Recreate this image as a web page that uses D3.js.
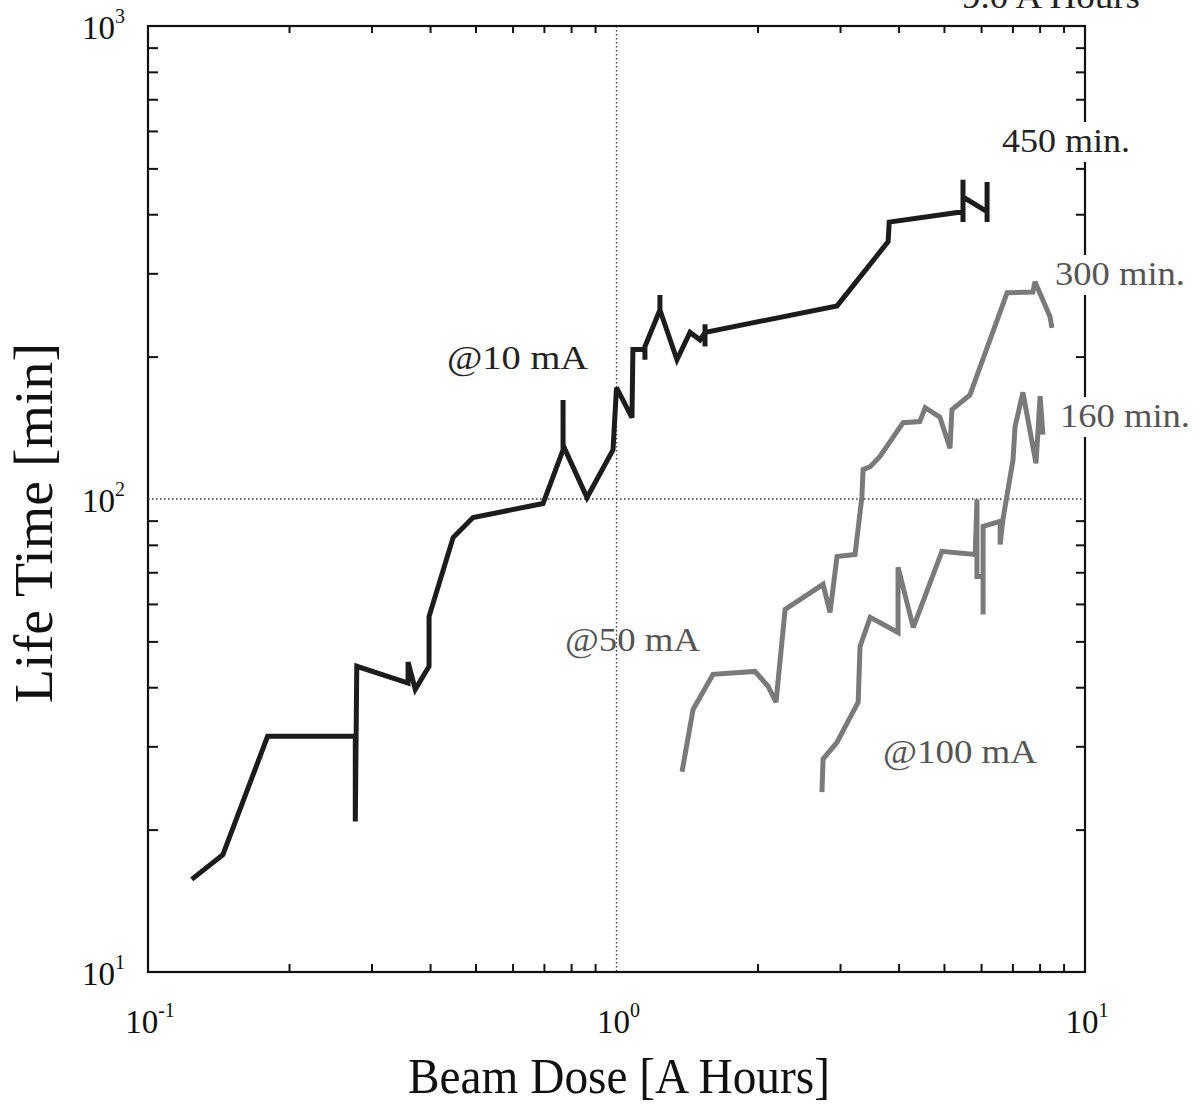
<!DOCTYPE html>
<html>
<head>
<meta charset="utf-8">
<script src="https://cdn.jsdelivr.net/npm/d3@7"></script>
<style>
  body { margin: 0; background: #fff; }
  svg { display: block; }
  text { font-family: "Liberation Serif", "DejaVu Serif", serif; }
</style>
</head>
<body>
<svg id="chart" width="1199" height="1109"></svg>
<script>
// ---- data ----
const xTicks = [0.1, 1, 10];
const xTickExp = ["-1", "0", "1"];
const yTicks = [10, 100, 1000];
const yTickExp = ["1", "2", "3"];

const dose10 = [0.124,0.1445,0.180,0.277,0.277,0.279,0.359,0.359,0.372,0.398,0.398,0.448,0.494,0.697,0.769,0.769,0.769,0.865,0.983,1.00,1.079,1.084,1.15,1.15,1.15,1.238,1.238,1.238,1.346,1.435,1.508,1.545,1.545,1.545,1.545,2.956,3.80,3.82,5.49,5.49,5.49,5.49,6.18,6.18,6.18];
const life10 = [15.7,17.7,31.5,31.5,20.8,44.3,40.8,45.2,39.6,44.3,56.4,82.9,91.4,97.8,127,162,130,100.7,127,172,148.6,207,207,197,210,251,270,251,197,225,217,225,210,234,225,256,350,385,405,385,473,435,405,385,468];

const dose50 = [1.380,1.457,1.607,1.975,2.106,2.190,2.290,2.76,2.856,2.956,3.23,3.34,3.36,3.48,3.65,4.09,4.44,4.56,4.90,5.15,5.20,5.68,6.82,7.74,7.82,8.42,8.50];
const life50 = [26.5,35.9,42.6,43.2,40.2,37.2,58.4,66.0,57.6,75.6,76.3,101,115.4,117,123,145,145.8,156,149,128,154.5,166,273,274,288,243,230];

const dose100 = [2.745,2.76,2.956,3.28,3.31,3.48,3.99,3.99,4.30,4.95,5.83,5.88,5.88,6.06,6.06,6.06,6.59,6.59,6.68,7.02,7.09,7.37,7.86,8.02,8.13];
const life100 = [24.0,28.2,30.6,37.2,48.8,56.2,52.2,71.7,53.5,77.5,76.3,99.8,68.6,68.6,57.0,87.5,89.7,80.1,90.5,121,142,168,119,165,136.8];

const seriesNames = ["@10 mA", "@50 mA", "@100 mA"];
const sideNotes = ["450 min.", "300 min.", "160 min."];
const topNote = "9.0 A Hours";

// ---- layout ----
const svg = d3.select("#chart");
const L = 148, R = 1085, T = 26, B = 972;
const x = d3.scaleLog().domain([0.1, 10]).range([L, R]);
const y = d3.scaleLog().domain([10, 1000]).range([B, T]);

svg.append("rect").attr("width", 1199).attr("height", 1109).attr("fill", "#fff");

// dotted grid at 10^0 and 10^2
svg.append("line").attr("x1", x(1)).attr("x2", x(1)).attr("y1", T).attr("y2", B)
  .attr("stroke", "#333").attr("stroke-width", 1.3).attr("stroke-dasharray", "1.5,2.5");
svg.append("line").attr("x1", L).attr("x2", R).attr("y1", y(100)).attr("y2", y(100))
  .attr("stroke", "#333").attr("stroke-width", 1.3).attr("stroke-dasharray", "1.5,2.5");

// minor ticks via d3 axes (inward)
const minorX = [];
[0.1, 1].forEach(d => { for (let k = 2; k <= 9; k++) minorX.push(d * k); });
const minorY = [];
[10, 100].forEach(d => { for (let k = 2; k <= 9; k++) minorY.push(d * k); });

function styleAxis(g) {
  g.select(".domain").remove();
  g.selectAll("text").remove();
  g.selectAll("line").attr("stroke", "#111").attr("stroke-width", 2);
}
svg.append("g").attr("transform", `translate(0,${B})`)
  .call(d3.axisTop(x).tickValues(minorX).tickSize(8)).call(styleAxis);
svg.append("g").attr("transform", `translate(0,${T})`)
  .call(d3.axisBottom(x).tickValues(minorX).tickSize(7)).call(styleAxis);
svg.append("g").attr("transform", `translate(${L},0)`)
  .call(d3.axisRight(y).tickValues(minorY).tickSize(10)).call(styleAxis);
svg.append("g").attr("transform", `translate(${R},0)`)
  .call(d3.axisLeft(y).tickValues(minorY).tickSize(9)).call(styleAxis);

// frame
svg.append("rect").attr("x", L).attr("y", T).attr("width", R - L).attr("height", B - T)
  .attr("fill", "none").attr("stroke", "#111").attr("stroke-width", 2.2);

// series
const line = d3.line().x(d => x(d[0])).y(d => y(d[1])).curve(d3.curveLinear);
const s10 = d3.zip(dose10, life10);
const s50 = d3.zip(dose50, life50);
const s100 = d3.zip(dose100, life100);

svg.append("path").datum(s50).attr("d", line).attr("fill", "none")
  .attr("stroke", "#7a7a7a").attr("stroke-width", 5).attr("stroke-linejoin", "miter").attr("stroke-miterlimit", 3);
svg.append("path").datum(s100).attr("d", line).attr("fill", "none")
  .attr("stroke", "#7a7a7a").attr("stroke-width", 5).attr("stroke-linejoin", "miter").attr("stroke-miterlimit", 3);
svg.append("path").datum(s10).attr("d", line).attr("fill", "none")
  .attr("stroke", "#1c1c1c").attr("stroke-width", 5).attr("stroke-linejoin", "miter").attr("stroke-miterlimit", 3);

// tick labels
yTicks.forEach((v, i) => {
  const t = svg.append("text").attr("x", 125).attr("y", y(v) + 13)
    .attr("text-anchor", "end").attr("fill", "#111");
  t.append("tspan").attr("font-size", 33).text("10");
  t.append("tspan").attr("font-size", 20).attr("dy", -16).text(yTickExp[i]);
});
xTicks.forEach((v, i) => {
  const t = svg.append("text").attr("x", x(v) + 2).attr("y", 1033)
    .attr("text-anchor", "middle").attr("fill", "#111");
  t.append("tspan").attr("font-size", 33).text("10");
  t.append("tspan").attr("font-size", 20).attr("dy", -16).text(xTickExp[i]);
});

// axis titles
svg.append("text").attr("x", 619).attr("y", 1093).attr("text-anchor", "middle")
  .attr("font-size", 50).attr("textLength", 422).attr("lengthAdjust", "spacingAndGlyphs")
  .attr("fill", "#111").text("Beam Dose [A Hours]");
svg.append("text").attr("transform", "translate(52,523) rotate(-90)").attr("text-anchor", "middle")
  .attr("font-size", 54).attr("textLength", 360).attr("lengthAdjust", "spacingAndGlyphs")
  .attr("fill", "#111").text("Life Time [min]");

// series labels
const labPos = [[447, 369, 141, "#222"], [565, 651, 135, "#555"], [883, 763, 154, "#555"]];
seriesNames.forEach((s, i) => {
  const p = labPos[i];
  svg.append("text").attr("x", p[0]).attr("y", p[1]).attr("font-size", 34)
    .attr("textLength", p[2]).attr("lengthAdjust", "spacingAndGlyphs")
    .attr("fill", p[3]).text(s);
});

// side notes with white background (break the right axis)
const notePos = [[1002, 152, 128, "#222"], [1055, 285, 130, "#555"], [1060, 427, 130, "#555"]];
sideNotes.forEach((s, i) => {
  const p = notePos[i];
  svg.append("rect").attr("x", p[0] - 3).attr("y", p[1] - 30).attr("width", p[2] + 6).attr("height", 40)
    .attr("fill", "#fff");
  svg.append("text").attr("x", p[0]).attr("y", p[1]).attr("font-size", 34)
    .attr("textLength", p[2]).attr("lengthAdjust", "spacingAndGlyphs")
    .attr("fill", p[3]).text(s);
});
svg.append("text").attr("x", 962).attr("y", 8).attr("font-size", 34)
  .attr("textLength", 178).attr("lengthAdjust", "spacingAndGlyphs")
  .attr("fill", "#222").text(topNote);
</script>
</body>
</html>
